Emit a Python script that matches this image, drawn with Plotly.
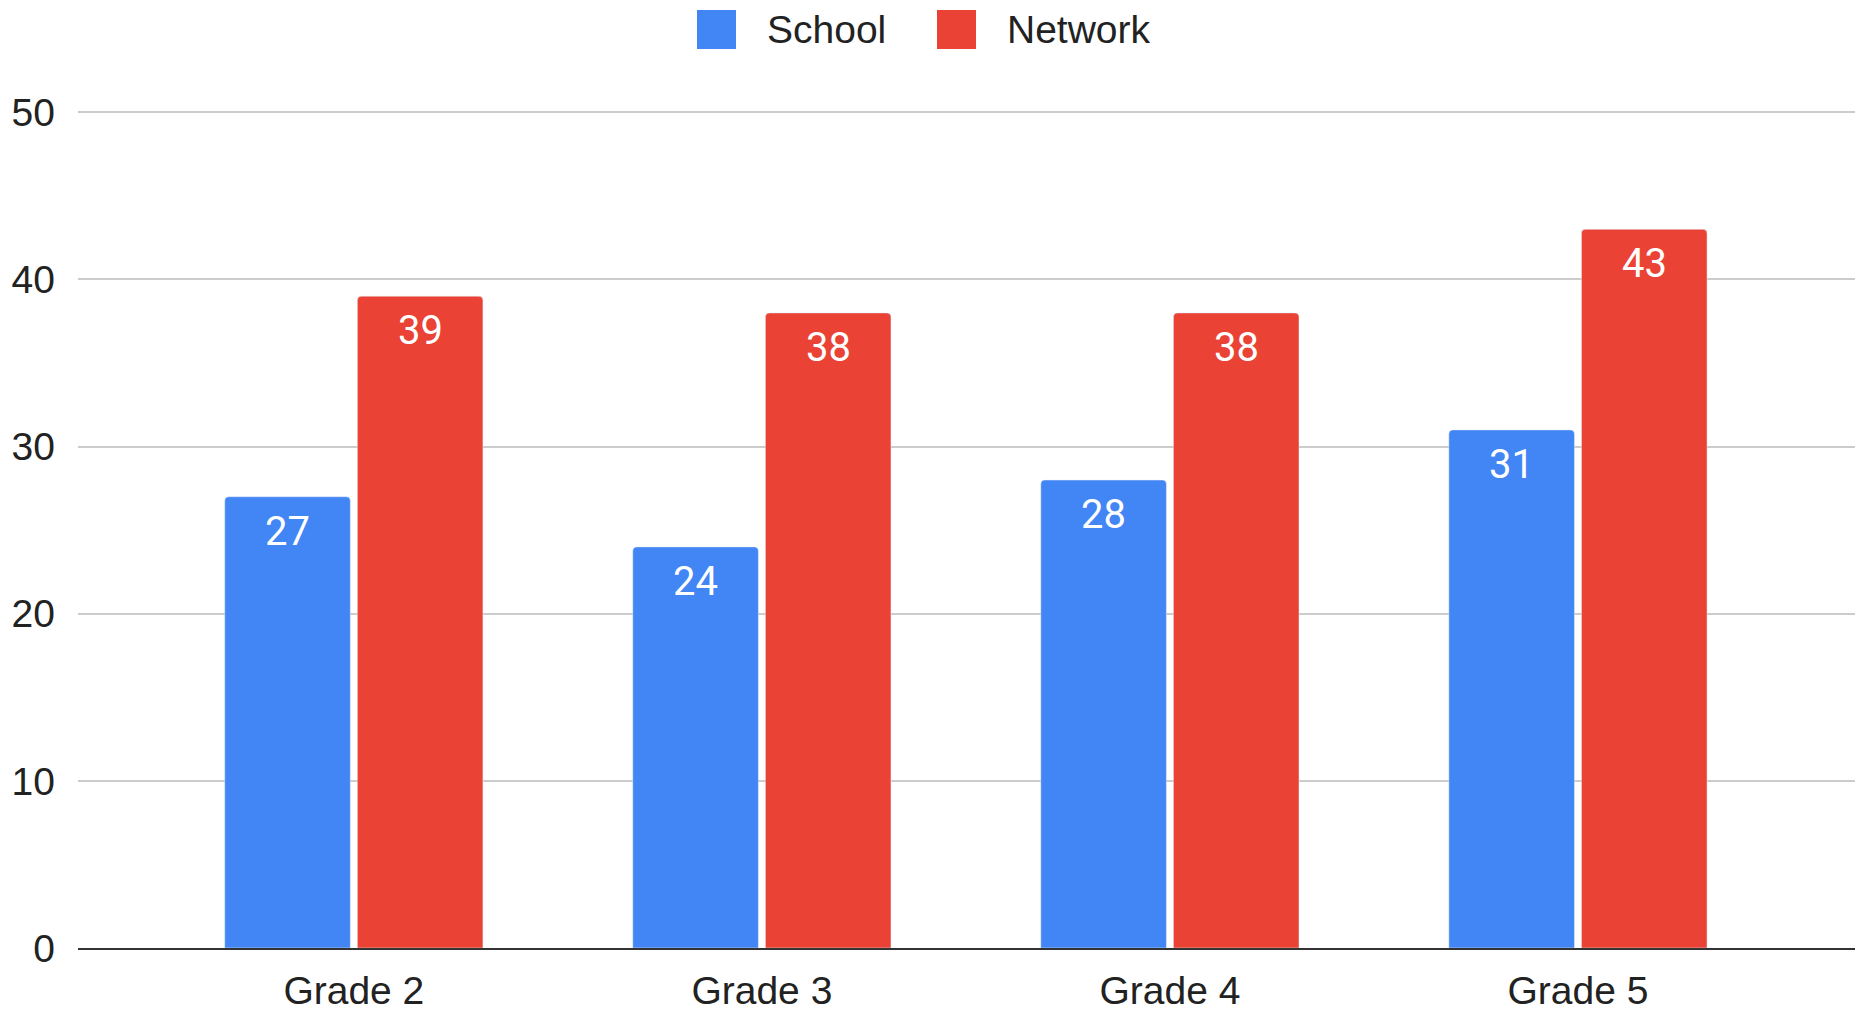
import plotly.graph_objects as go

categories = ["Grade 2", "Grade 3", "Grade 4", "Grade 5"]
school = [27, 24, 28, 31]
network = [39, 38, 38, 43]
series_names = ["School", "Network"]
colors = ["#4285F4", "#EA4335"]
y_ticks = [0, 10, 20, 30, 40, 50]

W, H = 1858, 1016
L, R, T, B = 78, 3, 109, 68
PW, PH = W - L - R, H - T - B
FONT = "Arial, Liberation Sans, sans-serif"
LABEL_FONT = "Roboto, Arial, sans-serif"
BARGAP = 0.35

xs = list(range(len(categories)))
series = [school, network]

fig = go.Figure()
for name, vals, col in zip(series_names, series, colors):
    fig.add_trace(go.Bar(
        x=xs, y=vals, name=name, marker_color=col,
        showlegend=False, hoverinfo="x+y+name",
    ))

annotations = []
# data labels inside the top of each bar
slot = (1 - BARGAP) / len(series)
for k, vals in enumerate(series):
    off = (k - (len(series) - 1) / 2) * slot
    for i, v in zip(xs, vals):
        annotations.append(dict(x=i + off, y=v, xref="x", yref="y", text=str(v), showarrow=False,
                                xanchor="center", yanchor="top", yshift=-9,
                                font=dict(family=LABEL_FONT, size=40, color="white")))

# legend drawn manually (large square swatches)
def px2paper(x, y):
    return (x - L) / PW, (H - B - y) / PH

shapes = []
legend_items = [(697, 765), (937, 1005)]
for (sx, tx), name, col in zip(legend_items, series_names, colors):
    x0, y0 = px2paper(sx, 49)
    x1, y1 = px2paper(sx + 39, 10)
    shapes.append(dict(type="rect", xref="paper", yref="paper", x0=x0, x1=x1, y0=y0, y1=y1,
                       fillcolor=col, line=dict(width=0), layer="above"))
    ax, ay = px2paper(tx, 29)
    annotations.append(dict(xref="paper", yref="paper", x=ax, y=ay, xanchor="left", yanchor="middle",
                            text=name, showarrow=False, font=dict(family=FONT, size=39, color="#222")))

fig.update_layout(
    width=W, height=H, autosize=False,
    margin=dict(l=L, r=R, t=T, b=B, pad=0),
    paper_bgcolor="white", plot_bgcolor="white",
    barmode="group", bargap=BARGAP, bargroupgap=0.053, barcornerradius=4,
    font=dict(family=FONT, size=39, color="#222"),
    shapes=shapes, annotations=annotations,
)
fig.update_xaxes(range=[-0.676, 3.679], tickvals=xs, ticktext=categories, showgrid=False,
                 showline=True, linecolor="#333", linewidth=2,
                 ticks="", tickfont=dict(size=39, color="#222"), ticklabelstandoff=7, zeroline=False)
fig.update_yaxes(range=[0, 50.2], tickvals=y_ticks, showgrid=True, gridcolor="#cccccc", gridwidth=2,
                 zeroline=False, showline=False, ticks="", tickfont=dict(size=39, color="#222"),
                 ticklabelstandoff=22)

fig.write_html("out.html", config={"displayModeBar": False},
               post_script="document.body.style.margin='0';")
